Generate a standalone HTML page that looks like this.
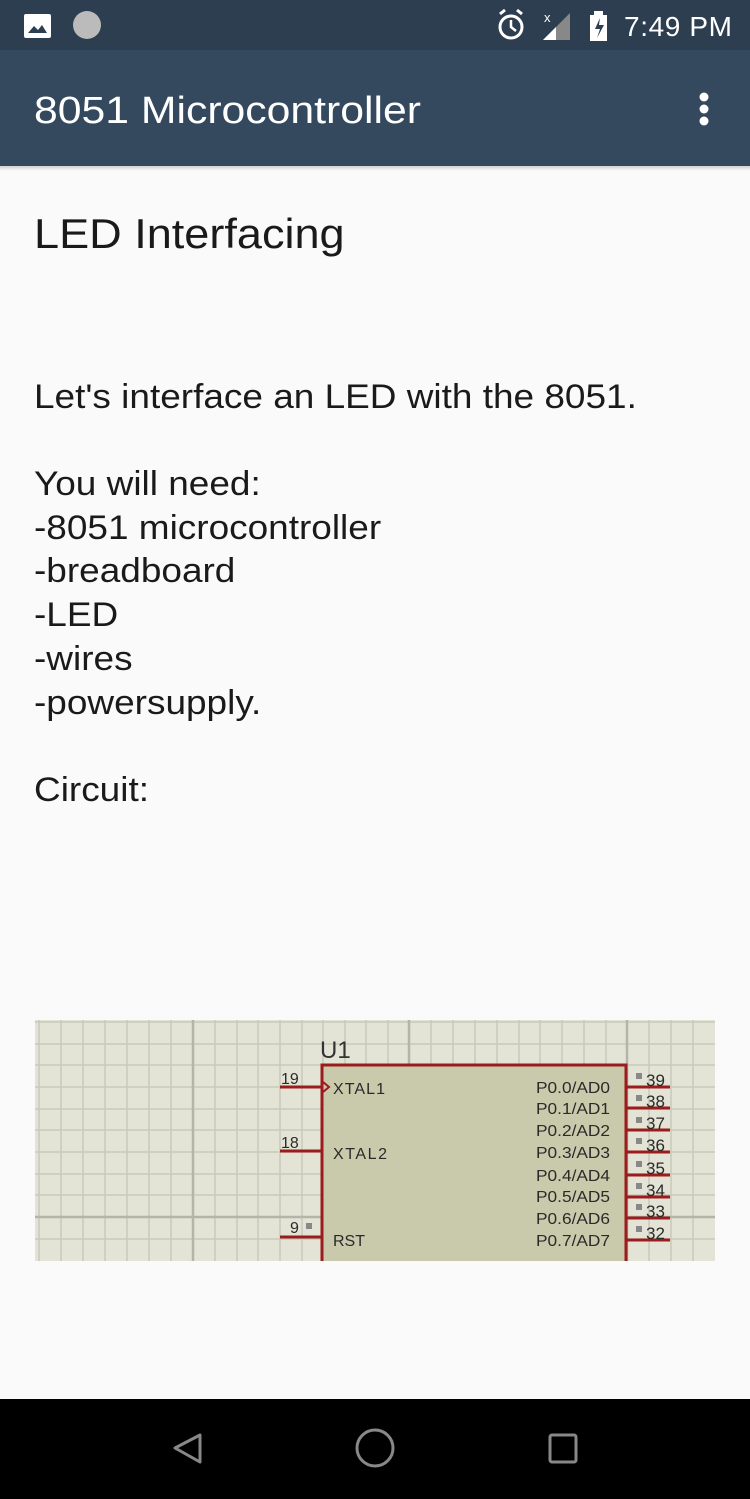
<!DOCTYPE html>
<html><head><meta charset="utf-8"><style>
html,body{margin:0;padding:0;width:750px;height:1499px;overflow:hidden;background:#fafafa;font-family:"Liberation Sans",sans-serif;position:relative}
.abs{position:absolute}
.t{position:absolute;left:34px;font-size:34px;color:#1a1a1a;white-space:nowrap;line-height:40px;transform:scaleX(1.087);transform-origin:0 0}
</style></head><body>
<div class="abs" style="left:0;top:0;width:750px;height:50px;background:#2c3e50"></div>
<div class="abs" style="left:0;top:50px;width:750px;height:116px;background:#34495e"></div>
<div class="abs" style="left:0;top:166px;width:750px;height:5px;background:linear-gradient(#d0d0d0,#fafafa)"></div>
<svg class="abs" style="left:0;top:0" width="750" height="170">
<rect x="24" y="14" width="27" height="24" rx="2" fill="#fff"/>
<path d="M28 33 L34 26 L38 30 L42 25 L47 33 Z" fill="#2c3e50"/>
<circle cx="87" cy="25" r="14" fill="#bbb"/>
<circle cx="511" cy="27" r="11" fill="none" stroke="#fff" stroke-width="3"/>
<path d="M511 20 V27 L516 31" stroke="#fff" stroke-width="2.5" fill="none"/>
<path d="M500 14 L505 10 M522 14 L517 10" stroke="#fff" stroke-width="3"/>
<path d="M543 40 L570 13 L570 40 Z" fill="#888"/><path d="M543 40 L556 27 L556 40 Z" fill="#fff"/>
<text x="544" y="22" fill="#fff" font-size="13" font-family="Liberation Sans">x</text>
<rect x="590" y="15" width="17" height="26" fill="#fff"/><rect x="594" y="11" width="9" height="5" fill="#fff"/>
<path d="M600 18 L595 29 H600 L597 38 L604 25 H599 Z" fill="#2c3e50"/>
<text x="624" y="36" fill="#fff" font-size="28" font-family="Liberation Sans" textLength="108">7:49 PM</text>
<text x="34" y="123" fill="#fff" font-size="38" font-family="Liberation Sans" textLength="387" lengthAdjust="spacingAndGlyphs">8051 Microcontroller</text>
<circle cx="704" cy="97" r="4.5" fill="#fff"/><circle cx="704" cy="109" r="4.5" fill="#fff"/><circle cx="704" cy="121" r="4.5" fill="#fff"/>
</svg>
<div class="t" style="top:212px;font-size:42px;line-height:44px;transform:scaleX(1.073)">LED Interfacing</div>
<div class="t" style="top:377px">Let's interface an LED with the 8051.</div>
<div class="t" style="top:464px">You will need:</div>
<div class="t" style="top:508px">-8051 microcontroller</div>
<div class="t" style="top:551px">-breadboard</div>
<div class="t" style="top:595px">-LED</div>
<div class="t" style="top:639px">-wires</div>
<div class="t" style="top:683px">-powersupply.</div>
<div class="t" style="top:770px">Circuit:</div>
<svg class="abs" style="left:0;top:0" width="750" height="1499">
<defs><clipPath id="c"><rect x="35" y="1020" width="680" height="241"/></clipPath></defs>
<g clip-path="url(#c)">
<rect x="35" y="1020" width="680" height="241" fill="#e4e4d6"/>
<g stroke="#c8c8bc" stroke-width="1.5">
<line x1="39" y1="1020" x2="39" y2="1261"/><line x1="61" y1="1020" x2="61" y2="1261"/><line x1="83" y1="1020" x2="83" y2="1261"/><line x1="105" y1="1020" x2="105" y2="1261"/><line x1="127" y1="1020" x2="127" y2="1261"/><line x1="149" y1="1020" x2="149" y2="1261"/><line x1="171" y1="1020" x2="171" y2="1261"/><line x1="215" y1="1020" x2="215" y2="1261"/><line x1="237" y1="1020" x2="237" y2="1261"/><line x1="258" y1="1020" x2="258" y2="1261"/><line x1="280" y1="1020" x2="280" y2="1261"/><line x1="302" y1="1020" x2="302" y2="1261"/><line x1="323" y1="1020" x2="323" y2="1261"/><line x1="345" y1="1020" x2="345" y2="1261"/><line x1="366" y1="1020" x2="366" y2="1261"/><line x1="388" y1="1020" x2="388" y2="1261"/><line x1="431" y1="1020" x2="431" y2="1261"/><line x1="453" y1="1020" x2="453" y2="1261"/><line x1="475" y1="1020" x2="475" y2="1261"/><line x1="497" y1="1020" x2="497" y2="1261"/><line x1="519" y1="1020" x2="519" y2="1261"/><line x1="540" y1="1020" x2="540" y2="1261"/><line x1="562" y1="1020" x2="562" y2="1261"/><line x1="584" y1="1020" x2="584" y2="1261"/><line x1="606" y1="1020" x2="606" y2="1261"/><line x1="649" y1="1020" x2="649" y2="1261"/><line x1="671" y1="1020" x2="671" y2="1261"/><line x1="693" y1="1020" x2="693" y2="1261"/>
<line x1="35" y1="1022" x2="715" y2="1022"/><line x1="35" y1="1044" x2="715" y2="1044"/><line x1="35" y1="1065" x2="715" y2="1065"/><line x1="35" y1="1087" x2="715" y2="1087"/><line x1="35" y1="1109" x2="715" y2="1109"/><line x1="35" y1="1130" x2="715" y2="1130"/><line x1="35" y1="1152" x2="715" y2="1152"/><line x1="35" y1="1174" x2="715" y2="1174"/><line x1="35" y1="1195" x2="715" y2="1195"/><line x1="35" y1="1239" x2="715" y2="1239"/>
</g>
<g stroke="#b4b4a8" stroke-width="2.5">
<line x1="193" y1="1020" x2="193" y2="1261"/><line x1="409" y1="1020" x2="409" y2="1261"/><line x1="627" y1="1020" x2="627" y2="1261"/><line x1="35" y1="1217" x2="715" y2="1217"/>
</g>
<rect x="322" y="1065" width="304" height="200" fill="#c9c9ab" stroke="#9b1c1c" stroke-width="3"/>
<g stroke="#9b1c1c" stroke-width="3">
<line x1="280" y1="1087" x2="322" y2="1087"/><line x1="280" y1="1151" x2="322" y2="1151"/><line x1="280" y1="1237" x2="322" y2="1237"/>
<line x1="626" y1="1087" x2="670" y2="1087"/><line x1="626" y1="1108" x2="670" y2="1108"/><line x1="626" y1="1130" x2="670" y2="1130"/><line x1="626" y1="1152" x2="670" y2="1152"/><line x1="626" y1="1175" x2="670" y2="1175"/><line x1="626" y1="1197" x2="670" y2="1197"/><line x1="626" y1="1218" x2="670" y2="1218"/><line x1="626" y1="1240" x2="670" y2="1240"/>
</g>
<path d="M323 1082 L329 1087 L323 1092" stroke="#9b1c1c" stroke-width="2" fill="none"/>
<g font-family="Liberation Sans" fill="#2a2a2a">
<text x="320" y="1058" font-size="24" fill="#333">U1</text>
<g font-size="16">
<text x="333" y="1094" textLength="52">XTAL1</text>
<text x="333" y="1159" textLength="54">XTAL2</text>
<text x="333" y="1246">RST</text>
<text x="281" y="1084">19</text><text x="281" y="1148">18</text><text x="290" y="1233">9</text>
</g>
<g font-size="16">
<text x="536" y="1093" textLength="74" lengthAdjust="spacingAndGlyphs">P0.0/AD0</text><text x="536" y="1114" textLength="74" lengthAdjust="spacingAndGlyphs">P0.1/AD1</text><text x="536" y="1136" textLength="74" lengthAdjust="spacingAndGlyphs">P0.2/AD2</text><text x="536" y="1158" textLength="74" lengthAdjust="spacingAndGlyphs">P0.3/AD3</text><text x="536" y="1181" textLength="74" lengthAdjust="spacingAndGlyphs">P0.4/AD4</text><text x="536" y="1202" textLength="74" lengthAdjust="spacingAndGlyphs">P0.5/AD5</text><text x="536" y="1224" textLength="74" lengthAdjust="spacingAndGlyphs">P0.6/AD6</text><text x="536" y="1246" textLength="74" lengthAdjust="spacingAndGlyphs">P0.7/AD7</text>
</g>
<g font-size="17">
<text x="646" y="1086">39</text><text x="646" y="1107">38</text><text x="646" y="1129">37</text><text x="646" y="1151">36</text><text x="646" y="1174">35</text><text x="646" y="1196">34</text><text x="646" y="1217">33</text><text x="646" y="1239">32</text>
</g>
</g>
<g fill="#888">
<rect x="636" y="1073" width="6" height="6"/><rect x="636" y="1095" width="6" height="6"/><rect x="636" y="1117" width="6" height="6"/><rect x="636" y="1138" width="6" height="6"/><rect x="636" y="1161" width="6" height="6"/><rect x="636" y="1183" width="6" height="6"/><rect x="636" y="1204" width="6" height="6"/><rect x="636" y="1226" width="6" height="6"/><rect x="306" y="1223" width="6" height="6"/>
</g>
</g>
<rect x="0" y="1399" width="750" height="100" fill="#000"/>
<path d="M200 1435 L175 1448 L200 1462 Z" stroke="#888" stroke-width="3" fill="none" stroke-linejoin="round"/>
<circle cx="375" cy="1448" r="18" stroke="#888" stroke-width="3" fill="none"/>
<rect x="550" y="1435" width="26" height="27" rx="2" stroke="#888" stroke-width="3" fill="none"/>
</svg>
</body></html>
